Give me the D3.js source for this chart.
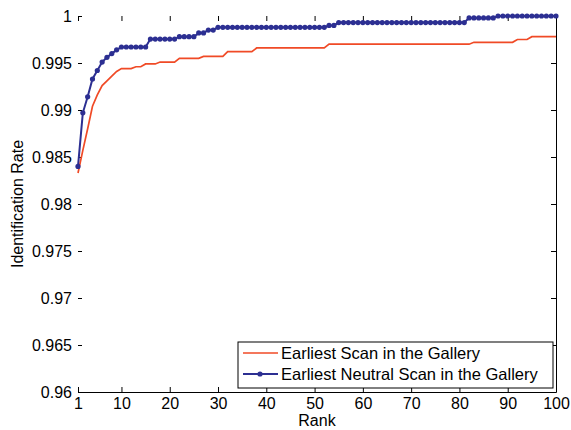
<!DOCTYPE html>
<html>
<head>
<meta charset="utf-8">
<script src="https://cdn.jsdelivr.net/npm/d3@7"></script>
<style>
    body { margin: 0; background: #ffffff; }
    svg text { font-family: "Liberation Sans", Arial, sans-serif; fill: #000; }
</style>
</head>
<body>
<div id="chart"></div>
<script>
const ranks = d3.range(1, 101);
const xTicks = [1, 10, 20, 30, 40, 50, 60, 70, 80, 90, 100];
const yTicks = [0.96, 0.965, 0.97, 0.975, 0.98, 0.985, 0.99, 0.995, 1];
const seriesNames = ["Earliest Scan in the Gallery", "Earliest Neutral Scan in the Gallery"];

const earliestScan = [
    0.9833, 0.9857, 0.9880, 0.9904, 0.9916, 0.9926, 0.9931, 0.9936, 0.9941, 0.9944,
    0.9944, 0.9944, 0.9946, 0.9946, 0.9949, 0.9949, 0.9949, 0.9951, 0.9951, 0.9951,
    0.9951, 0.9955, 0.9955, 0.9955, 0.9955, 0.9955, 0.9957, 0.9957, 0.9957, 0.9957,
    0.9957, 0.9962, 0.9962, 0.9962, 0.9962, 0.9962, 0.9962, 0.9966, 0.9966, 0.9966,
    0.9966, 0.9966, 0.9966, 0.9966, 0.9966, 0.9966, 0.9966, 0.9966, 0.9966, 0.9966,
    0.9966, 0.9966, 0.9970, 0.9970, 0.9970, 0.9970, 0.9970, 0.9970, 0.9970, 0.9970,
    0.9970, 0.9970, 0.9970, 0.9970, 0.9970, 0.9970, 0.9970, 0.9970, 0.9970, 0.9970,
    0.9970, 0.9970, 0.9970, 0.9970, 0.9970, 0.9970, 0.9970, 0.9970, 0.9970, 0.9970,
    0.9970, 0.9970, 0.9972, 0.9972, 0.9972, 0.9972, 0.9972, 0.9972, 0.9972, 0.9972,
    0.9972, 0.9975, 0.9975, 0.9975, 0.9978, 0.9978, 0.9978, 0.9978, 0.9978, 0.9978
];

const earliestNeutral = [
    0.9840, 0.9897, 0.9914, 0.9933, 0.9942, 0.9951, 0.9956, 0.9960, 0.9964, 0.9967,
    0.9967, 0.9967, 0.9967, 0.9967, 0.9967, 0.99755, 0.99755, 0.99755, 0.99755, 0.99755,
    0.99755, 0.9978, 0.9978, 0.9978, 0.9978, 0.9982, 0.9982, 0.9985, 0.9985, 0.9988,
    0.9988, 0.9988, 0.9988, 0.9988, 0.9988, 0.9988, 0.9988, 0.9988, 0.9988, 0.9988,
    0.9988, 0.9988, 0.9988, 0.9988, 0.9988, 0.9988, 0.9988, 0.9988, 0.9988, 0.9988,
    0.9988, 0.9988, 0.9990, 0.9990, 0.9993, 0.9993, 0.9993, 0.9993, 0.9993, 0.9993,
    0.9993, 0.9993, 0.9993, 0.9993, 0.9993, 0.9993, 0.9993, 0.9993, 0.9993, 0.9993,
    0.9993, 0.9993, 0.9993, 0.9993, 0.9993, 0.9993, 0.9993, 0.9993, 0.9993, 0.9993,
    0.9993, 0.9998, 0.9998, 0.9998, 0.9998, 0.9998, 0.9998, 1.0000, 1.0000, 1.0000,
    1.0000, 1.0000, 1.0000, 1.0000, 1.0000, 1.0000, 1.0000, 1.0000, 1.0000, 1.0000
];

const RED = "#f04a26";
const BLUE = "#2c2f92";

function drawChart() {
    const width = 571;
    const height = 430;
    const margin = { top: 16, right: 15, bottom: 38, left: 78 };
    const innerWidth = width - margin.left - margin.right;
    const innerHeight = height - margin.top - margin.bottom;

    const svg = d3.select("#chart")
        .append("svg")
        .attr("width", width)
        .attr("height", height);

    const chart = svg.append("g")
        .attr("transform", `translate(${margin.left},${margin.top})`);

    const x = d3.scaleLinear().domain([1, 100]).range([0, innerWidth]);
    const y = d3.scaleLinear().domain([0.96, 1]).range([innerHeight, 0]);

    // bottom axis, ticks pointing inward
    const bottom = chart.append("g")
        .attr("transform", `translate(0,${innerHeight})`)
        .call(d3.axisBottom(x).tickValues(xTicks).tickSizeInner(-5).tickSizeOuter(0));
    bottom.select(".domain").attr("stroke", "#000");
    bottom.selectAll("text")
        .attr("font-size", 16)
        .attr("y", 6)
        .attr("dy", "0.71em");

    // top: ticks only
    const top = chart.append("g")
        .call(d3.axisTop(x).tickValues(xTicks).tickSizeInner(-5).tickSizeOuter(0).tickFormat(""));
    top.select(".domain").remove();

    // left: ticks and labels, no line
    const left = chart.append("g")
        .call(d3.axisLeft(y).tickValues(yTicks).tickSizeInner(-4).tickSizeOuter(0).tickPadding(6).tickFormat(d3.format("")));
    left.select(".domain").remove();
    left.selectAll("text").attr("font-size", 16);

    // right axis line with inward ticks
    const right = chart.append("g")
        .attr("transform", `translate(${innerWidth},0)`)
        .call(d3.axisRight(y).tickValues(yTicks).tickSizeInner(-5).tickSizeOuter(0).tickFormat(""));
    right.select(".domain").attr("stroke", "#000");

    const line = d3.line()
        .x((d, i) => x(ranks[i]))
        .y(d => y(d));

    chart.append("path")
        .datum(earliestScan)
        .attr("fill", "none")
        .attr("stroke", RED)
        .attr("stroke-width", 1.7)
        .attr("d", line);

    chart.append("path")
        .datum(earliestNeutral)
        .attr("fill", "none")
        .attr("stroke", BLUE)
        .attr("stroke-width", 2)
        .attr("d", line);

    chart.selectAll(".dot")
        .data(earliestNeutral)
        .enter()
        .append("circle")
        .attr("class", "dot")
        .attr("cx", (d, i) => x(ranks[i]))
        .attr("cy", d => y(d))
        .attr("r", 2.6)
        .attr("fill", BLUE);

    svg.append("text")
        .attr("x", margin.left + innerWidth / 2)
        .attr("y", 426)
        .attr("text-anchor", "middle")
        .attr("font-size", 16)
        .text("Rank");

    svg.append("text")
        .attr("transform", `translate(23,${margin.top + innerHeight / 2}) rotate(-90)`)
        .attr("text-anchor", "middle")
        .attr("font-size", 16)
        .text("Identification Rate");

    // legend
    const legend = svg.append("g").attr("transform", "translate(238,342)");
    legend.append("rect")
        .attr("width", 315)
        .attr("height", 46)
        .attr("fill", "#fff")
        .attr("stroke", "#000")
        .attr("stroke-width", 1);

    const rows = legend.selectAll(".legend-row")
        .data(seriesNames)
        .enter()
        .append("g")
        .attr("transform", (_, i) => `translate(0,${11 + i * 21})`);

    rows.append("line")
        .attr("x1", 5)
        .attr("x2", 40)
        .attr("stroke", (_, i) => i === 0 ? RED : BLUE)
        .attr("stroke-width", (_, i) => i === 0 ? 1.7 : 2);

    rows.filter((_, i) => i === 1)
        .append("circle")
        .attr("cx", 22)
        .attr("r", 2.6)
        .attr("fill", BLUE);

    rows.append("text")
        .attr("x", 43)
        .attr("dy", "0.36em")
        .attr("font-size", 16.5)
        .text(d => d);
}

drawChart();
</script>
</body>
</html>
